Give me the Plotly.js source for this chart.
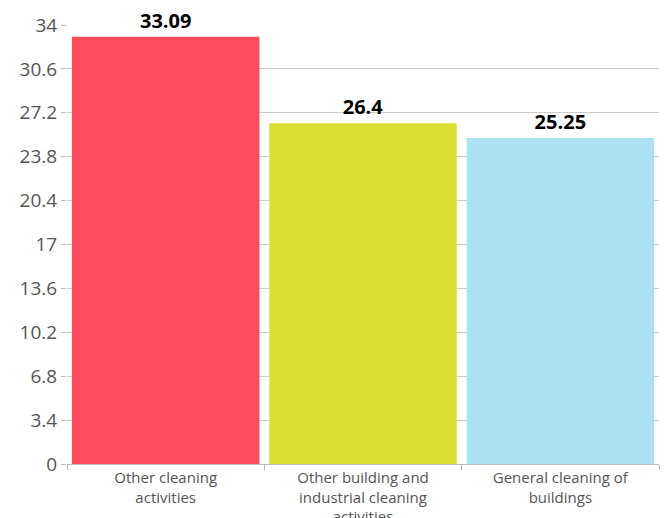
<!DOCTYPE html>
<html><head><meta charset="utf-8">
<script src="https://cdn.plot.ly/plotly-3.0.1.min.js"></script>
<style>html,body{margin:0;padding:0;background:#fff}</style>
</head><body>
<div id="chart" style="width:671px;height:518px"></div>
<script>
const categories = ["Other cleaning<br>activities", "Other building and<br>industrial cleaning<br>activities", "General cleaning of<br>buildings"];
const values = [33.09, 26.4, 25.25];
const valueLabels = ["33.09", "26.4", "25.25"];
const colors = ["#ff4b5c", "#d9e032", "#abe1f3"];
const yTicks = [0, 3.4, 6.8, 10.2, 13.6, 17, 20.4, 23.8, 27.2, 30.6, 34];

Plotly.newPlot("chart", [{
  type: "bar",
  x: categories,
  y: values,
  text: valueLabels,
  textposition: "outside",
  cliponaxis: false,
  textfont: {family: "Open Sans, sans-serif", size: 20, color: "#000", weight: 700},
  marker: {color: colors},
  width: 0.95,
  hoverinfo: "none"
}], {
  width: 671, height: 518,
  margin: {l: 67, r: 12, t: 25, b: 54},
  paper_bgcolor: "#fff", plot_bgcolor: "#fff",
  font: {family: "Open Sans, sans-serif", color: "#555"},
  showlegend: false,
  bargap: 0.05,
  xaxis: {
    type: "category",
    tickson: "boundaries",
    ticks: "outside", ticklen: 5, tickcolor: "#bbb",
    showline: true, linecolor: "#bbb", linewidth: 1,
    tickfont: {size: 15, color: "#555"},
    showgrid: false
  },
  yaxis: {
    range: [0, 34],
    tickvals: yTicks,
    ticktext: yTicks.map(String),
    ticks: "outside", ticklen: 5, tickcolor: "#bbb",
    tickfont: {size: 19, color: "#555"},
    showgrid: true, gridcolor: "#ccc", gridwidth: 1,
    zeroline: false, showline: false
  }
}, {displayModeBar: false, staticPlot: true});
</script>
</body></html>
